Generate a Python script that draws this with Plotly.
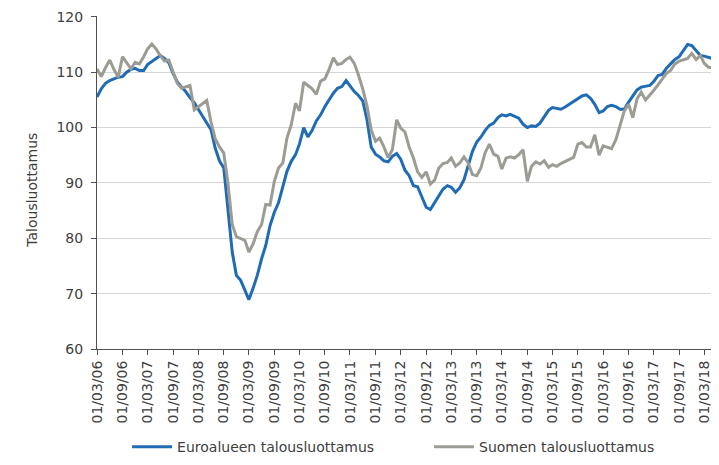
import pandas as pd
import plotly.graph_objects as go

start_month = "2006-03-01"
n_months = 148
months = pd.date_range(start_month, periods=n_months, freq="MS")

euro_area = [
    105.5, 107.0, 108.0, 108.5, 108.8, 109.1, 109.2, 110.0, 110.5, 110.7, 110.3, 110.3,
    111.4, 111.9, 112.4, 113.0, 112.5, 111.7, 109.8, 108.3, 107.3, 106.5, 105.4, 104.5,
    103.3, 102.1, 100.9, 99.6, 96.3, 94.0, 92.7, 85.8, 77.5, 73.3, 72.4, 70.6,
    68.9, 71.0, 73.3, 76.3, 78.7, 82.3, 84.7, 86.4, 89.1, 92.1, 93.9, 95.1,
    97.0, 100.0, 98.3, 99.5, 101.2, 102.3, 103.8, 105.0, 106.2, 107.1, 107.4, 108.5,
    107.5, 106.5, 105.8, 104.8, 101.5, 96.5, 95.2, 94.7, 94.0, 93.8, 94.8, 95.3,
    94.3, 92.3, 91.3, 89.5, 89.3, 87.3, 85.6, 85.2, 86.5, 87.8, 88.9, 89.5,
    89.2, 88.3, 89.1, 90.6, 93.2, 95.7, 97.4, 98.3, 99.5, 100.4, 100.8, 101.8,
    102.3, 102.1, 102.4, 102.0, 101.7, 100.6, 100.0, 100.3, 100.2, 100.8, 102.0, 103.1,
    103.6, 103.4, 103.3, 103.7, 104.2, 104.8, 105.3, 105.7, 105.9, 105.3, 104.2, 102.7,
    103.0, 103.8, 104.0, 103.8, 103.3, 103.3, 104.6, 105.7, 106.8, 107.3, 107.4, 107.6,
    108.3, 109.4, 109.6, 110.7, 111.5, 112.3, 112.8, 113.8, 115.0, 114.8, 113.9, 113.0,
    112.9, 112.7, 112.4, 112.2,
]

finland = [
    110.6, 109.2, 110.8, 112.2, 110.5, 109.1, 112.8, 111.6, 110.6, 111.8, 111.5, 112.8,
    114.2, 115.1, 114.2, 113.0, 112.0, 112.2, 110.0, 108.0, 107.1, 107.3, 107.6, 103.2,
    103.8, 104.4, 104.9, 101.0, 98.0, 96.5, 95.4, 90.0, 82.5, 80.3, 80.0, 79.6,
    77.5, 79.0, 81.2, 82.5, 86.1, 86.0, 90.3, 92.7, 93.6, 98.1, 100.5, 104.4,
    103.0, 108.2, 107.6, 107.0, 106.0, 108.4, 108.8, 110.5, 112.6, 111.4, 111.6, 112.3,
    112.7, 111.6, 109.5, 107.0, 104.0, 99.6, 97.5, 98.1, 96.5, 94.6, 96.0, 101.4,
    99.9, 99.2, 96.5, 94.5, 92.0, 91.0, 92.0, 89.8, 90.5, 92.7, 93.5, 93.7,
    94.5, 93.0, 93.6, 94.7, 93.6, 91.5, 91.3, 92.7, 95.5, 97.0, 95.2, 94.8,
    92.5, 94.5, 94.7, 94.5, 95.1, 96.0, 90.3, 93.0, 93.8, 93.4, 94.0, 92.8,
    93.3, 93.0, 93.5, 93.9, 94.2, 94.6, 97.0, 97.3, 96.5, 96.5, 98.7, 95.0,
    96.7, 96.5, 96.2, 97.8, 100.5, 103.0, 104.2, 101.8, 105.2, 106.4, 105.0, 105.8,
    106.7, 107.7, 108.8, 109.8, 110.3, 111.5, 112.0, 112.2, 112.5, 113.4, 112.3, 113.0,
    111.6, 110.9, 110.8, 110.0,
]

series_names = ["Euroalueen talousluottamus", "Suomen talousluottamus"]
y_title = "Talousluottamus"
y_ticks = [60, 70, 80, 90, 100, 110, 120]

font_family = "DejaVu Sans, Liberation Sans, Arial, sans-serif"
text_color = "#404040"
axis_color = "#505050"

fig = go.Figure()
fig.add_trace(go.Scatter(x=months, y=euro_area, name=series_names[0], mode="lines",
                         line=dict(color="#1F6CB4", width=3), legend="legend"))
fig.add_trace(go.Scatter(x=months, y=finland, name=series_names[1], mode="lines",
                         line=dict(color="#9C9C95", width=3), legend="legend2"))

legend_common = dict(orientation="h", xanchor="left", yanchor="middle", y=-0.295,
                     font=dict(family=font_family, size=14, color=text_color),
                     itemwidth=40, bgcolor="rgba(0,0,0,0)")

# page body has an 8px default margin, so the figure is sized/offset to compensate
fig.update_layout(
    width=711, height=457,
    margin=dict(l=89, r=2, t=8, b=114),
    paper_bgcolor="white", plot_bgcolor="white",
    font=dict(family=font_family, size=14, color=text_color),
    showlegend=True,
    legend=dict(x=0.0485, **legend_common),
    legend2=dict(x=0.5355, **legend_common),
    annotations=[dict(text=y_title, textangle=-90, xref="paper", yref="paper",
                      x=-0.105, y=0.478, xanchor="center", yanchor="middle",
                      showarrow=False,
                      font=dict(family=font_family, size=14, color=text_color))],
)
fig.update_xaxes(
    type="date", automargin=False,
    range=[months[0], months[-1]],
    tick0=start_month, dtick="M6", tickformat="%d/%m/%y",
    tickangle=-90, ticks="outside", ticklen=5, tickcolor=axis_color,
    showline=True, linecolor=axis_color, linewidth=1,
    showgrid=False, zeroline=False,
    tickfont=dict(family=font_family, size=14, color=text_color),
)
fig.update_yaxes(
    automargin=False,
    range=[60, 120.15], tickvals=y_ticks,
    ticks="outside", ticklen=5, tickcolor=axis_color,
    showline=True, linecolor=axis_color, linewidth=1,
    showgrid=True, gridcolor="#D6D6D6", gridwidth=1, zeroline=False,
    tickfont=dict(family=font_family, size=14, color=text_color),
    ticklabelstandoff=5,
)

fig.write_html("out.html")
